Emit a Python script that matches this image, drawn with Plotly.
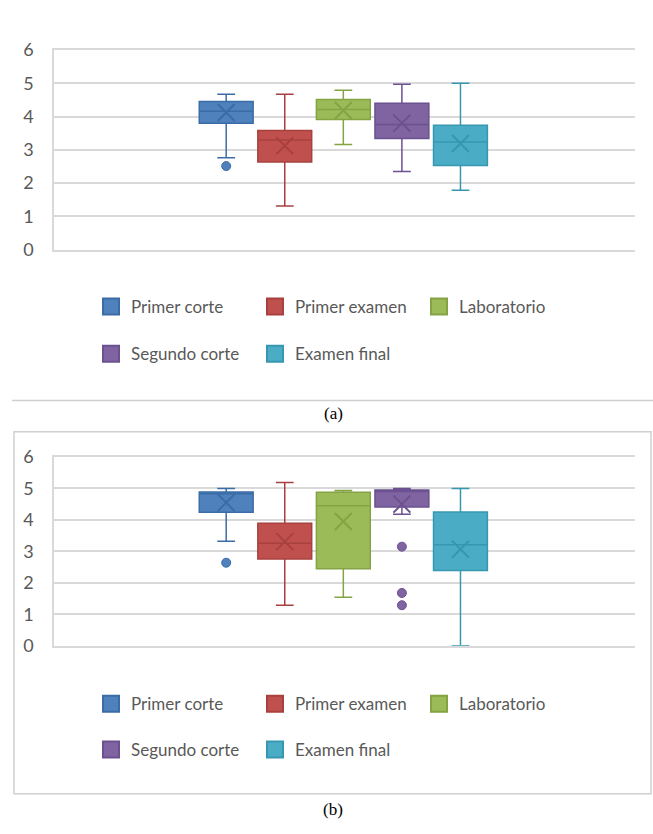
import plotly.graph_objects as go

# ---------------- data ----------------
series = ["Primer corte", "Primer examen", "Laboratorio", "Segundo corte", "Examen final"]

# panel (a)
a_lower = [2.76, 1.31, 3.16, 2.35, 1.78]
a_q1 = [3.80, 2.63, 3.91, 3.34, 2.53]
a_median = [4.16, 3.29, 4.21, 3.76, 3.23]
a_q3 = [4.45, 3.58, 4.51, 4.40, 3.74]
a_upper = [4.67, 4.67, 4.79, 4.97, 5.00]
a_mean = [4.12, 3.12, 4.18, 3.80, 3.19]
a_outliers = [[2.51], [], [], [], []]

# panel (b)
b_lower = [3.32, 1.29, 1.54, 4.18, 0.00]
b_q1 = [4.24, 2.76, 2.45, 4.41, 2.39]
b_median = [4.83, 3.26, 4.45, 4.90, 3.21]
b_q3 = [4.89, 3.89, 4.88, 4.95, 4.25]
b_upper = [5.00, 5.19, 4.93, 5.00, 5.00]
b_mean = [4.55, 3.31, 3.95, 4.50, 3.07]
b_outliers = [[2.64], [], [], [3.15, 1.68, 1.29], []]

y_ticks = [0, 1, 2, 3, 4, 5, 6]
captions = ["(a)", "(b)"]

# ---------------- styles ----------------
fills = ["#4F81BD", "#C0504D", "#9BBB59", "#8064A2", "#4BACC6"]
edges = ["#3B6CA6", "#A8413E", "#84A345", "#6B5190", "#3797B0"]
GRID = "#D9D9D9"
TEXT = "#595959"
FONT = "Lato"

W, H = 653, 834
fig = go.Figure()

panels = [
    dict(lower=a_lower, q1=a_q1, med=a_median, q3=a_q3, upper=a_upper, mean=a_mean,
         out=a_outliers, xa="x", ya="y", legs=("legend", "legend2")),
    dict(lower=b_lower, q1=b_q1, med=b_median, q3=b_q3, upper=b_upper, mean=b_mean,
         out=b_outliers, xa="x2", ya="y2", legs=("legend3", "legend4")),
]

for p in panels:
    for i, name in enumerate(series):
        fig.add_trace(go.Box(
            x=[name], q1=[p["q1"][i]], median=[p["med"][i]], q3=[p["q3"][i]],
            lowerfence=[p["lower"][i]], upperfence=[p["upper"][i]],
            name=name, boxpoints=False, width=0.92, whiskerwidth=0.33,
            fillcolor=fills[i], line=dict(color=edges[i], width=1.5),
            showlegend=False, xaxis=p["xa"], yaxis=p["ya"], hoverinfo="skip",
        ))
        # mean marker (X)
        fig.add_trace(go.Scatter(
            x=[name], y=[p["mean"][i]], mode="markers",
            marker=dict(symbol="x-thin", size=17, line=dict(color=edges[i], width=2)),
            showlegend=False, xaxis=p["xa"], yaxis=p["ya"], hoverinfo="skip",
        ))
        # outliers
        if p["out"][i]:
            fig.add_trace(go.Scatter(
                x=[name] * len(p["out"][i]), y=p["out"][i], mode="markers",
                marker=dict(symbol="circle", size=9, color=fills[i],
                            line=dict(color=edges[i], width=1)),
                showlegend=False, xaxis=p["xa"], yaxis=p["ya"], hoverinfo="skip",
            ))
        # legend entry
        leg = p["legs"][0] if i < 3 else p["legs"][1]
        fig.add_trace(go.Scatter(
            x=[None], y=[None], mode="markers", name=name,
            marker=dict(symbol="square", size=16, color=fills[i],
                        line=dict(color=edges[i], width=2)),
            showlegend=True, legend=leg, xaxis=p["xa"], yaxis=p["ya"],
        ))

xdom = [54 / W, 635 / W]
ydom_a = [1 - 244 / H, 1 - 39 / H]
ydom_b = [1 - 651 / H, 1 - 457 / H]

xcommon = dict(type="category", categoryorder="array", categoryarray=series,
               range=[-2.94, 6.98], showgrid=False, zeroline=False,
               showticklabels=False, showline=True, mirror=True, linecolor=GRID,
               linewidth=1.5, ticks="", fixedrange=True)
ycommon = dict(range=[0, 6], tickvals=y_ticks, showgrid=True, gridcolor=GRID,
               gridwidth=1.5, zeroline=False, showline=True, linecolor=GRID,
               linewidth=1.5, ticks="", ticklabelstandoff=15,
               tickfont=dict(family=FONT, size=18, color=TEXT), fixedrange=True)

legcommon = dict(orientation="h", xanchor="left", yanchor="middle",
                 font=dict(family=FONT, size=17, color=TEXT),
                 entrywidth=119, entrywidthmode="pixels",
                 bgcolor="rgba(0,0,0,0)", itemclick=False, itemdoubleclick=False)

lx = 91 / W
fig.update_layout(
    width=W, height=H,
    margin=dict(l=0, r=0, t=0, b=0),
    paper_bgcolor="white", plot_bgcolor="white",
    xaxis=dict(domain=xdom, anchor="y", **xcommon),
    yaxis=dict(domain=ydom_a, anchor="x", **ycommon),
    xaxis2=dict(domain=xdom, anchor="y2", **xcommon),
    yaxis2=dict(domain=ydom_b, anchor="x2", **ycommon),
    legend=dict(x=lx, y=1 - 303 / H, **legcommon),
    legend2=dict(x=lx, y=1 - 351.5 / H, **legcommon),
    legend3=dict(x=lx, y=1 - 711 / H, **legcommon),
    legend4=dict(x=lx, y=1 - 758 / H, **legcommon),
    showlegend=True,
    shapes=[
        dict(type="line", xref="paper", yref="paper", x0=12 / W, x1=1.0,
             y0=1 - 399 / H, y1=1 - 399 / H, line=dict(color="#CFCFCF", width=1.5)),
        dict(type="rect", xref="paper", yref="paper", x0=14 / W, x1=651 / W,
             y0=1 - 803 / H, y1=1 - 431 / H, line=dict(color="#CFCFCF", width=1.5)),
    ],
    annotations=[
        dict(text=captions[0], xref="paper", yref="paper", x=333 / W, y=1 - 412 / H,
             showarrow=False, xanchor="center", yanchor="middle",
             font=dict(family="Liberation Serif", size=17, color="black")),
        dict(text=captions[1], xref="paper", yref="paper", x=333 / W, y=1 - 819 / H,
             showarrow=False, xanchor="center", yanchor="middle",
             font=dict(family="Liberation Serif", size=17, color="black")),
    ],
)

fig.write_html(
    "out.html",
    config={"displayModeBar": False},
    post_script="document.body.style.margin='0';document.body.style.overflow='hidden';",
)
